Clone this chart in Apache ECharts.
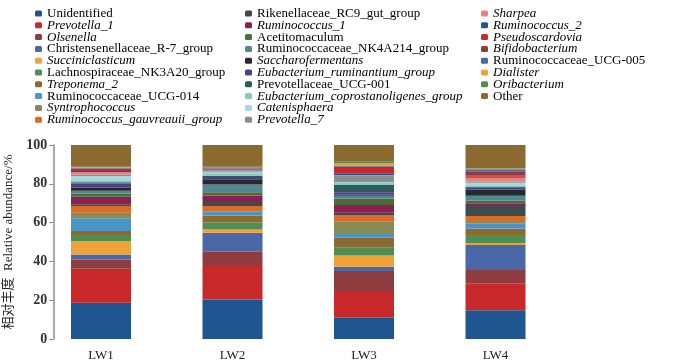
<!DOCTYPE html>
<html>
<head>
<meta charset="utf-8">
<script src="https://cdn.jsdelivr.net/npm/echarts@6/dist/echarts.min.js"></script>
<style>html,body{margin:0;padding:0;background:#fff}#c{width:700px;height:364px}</style>
</head>
<body>
<div id="c"></div>
<script>
var samples = ['LW1', 'LW2', 'LW3', 'LW4'];
var genera = ['Unidentified', 'Prevotella_1', 'Olsenella', 'Christensenellaceae_R-7_group', 'Succiniclasticum',
  'Lachnospiraceae_NK3A20_group', 'Treponema_2', 'Ruminococcaceae_UCG-014', 'Syntrophococcus', 'Ruminococcus_gauvreauii_group',
  'Rikenellaceae_RC9_gut_group', 'Ruminococcus_1', 'Acetitomaculum', 'Ruminococcaceae_NK4A214_group', 'Saccharofermentans',
  'Eubacterium_ruminantium_group', 'Prevotellaceae_UCG-001', 'Eubacterium_coprostanoligenes_group', 'Catenisphaera', 'Prevotella_7',
  'Sharpea', 'Ruminococcus_2', 'Pseudoscardovia', 'Bifidobacterium', 'Ruminococcaceae_UCG-005', 'Dialister', 'Oribacterium', 'Other'];
var italicNames = ['Prevotella_1', 'Olsenella', 'Succiniclasticum', 'Treponema_2', 'Syntrophococcus', 'Ruminococcus_gauvreauii_group',
  'Ruminococcus_1', 'Saccharofermentans', 'Eubacterium_ruminantium_group', 'Eubacterium_coprostanoligenes_group', 'Catenisphaera',
  'Prevotella_7', 'Sharpea', 'Ruminococcus_2', 'Pseudoscardovia', 'Bifidobacterium', 'Dialister', 'Oribacterium'];
// relative abundance (%) per genus, in the order of `genera`
var lw1 = [18.7, 17.5, 4.8, 2.6, 6.9, 3.1, 2.1, 6.5, 2.9, 3.4, 1.0, 3.8, 1.7, 1.4, 1.5, 2.2, 0.7, 1.0, 2.2, 0.7, 1.2, 0.7, 1.0, 0.3, 0.5, 0.2, 0.2, 11.2];
var lw2 = [20.4, 17.2, 7.4, 9.8, 1.7, 3.6, 3.6, 1.7, 0.4, 2.7, 2.6, 2.9, 1.7, 4.0, 2.6, 1.2, 0.6, 1.0, 0.7, 0.5, 0.6, 0.5, 0.3, 0.3, 0.5, 0.1, 0.2, 11.5];
var lw3 = [11.0, 13.7, 10.3, 2.2, 5.8, 4.0, 5.2, 1.9, 6.4, 3.1, 1.5, 4.0, 3.3, 1.4, 0.6, 1.2, 3.8, 1.0, 0.5, 3.1, 0.5, 1.0, 3.1, 0.3, 0.3, 1.2, 1.0, 8.6];
var lw4 = [14.8, 13.9, 6.9, 12.9, 1.0, 4.1, 3.4, 2.4, 0.9, 3.1, 5.7, 0.9, 1.4, 2.4, 3.1, 1.0, 0.5, 0.9, 1.2, 0.5, 2.1, 0.5, 0.5, 2.4, 1.0, 0.2, 0.2, 12.5];
var yTicks = [0, 20, 40, 60, 80, 100];

var palette = ['#1f5591', '#c8292a', '#8f3c40', '#4a67a8', '#f0a23a', '#4e8f55', '#8a6a2e', '#4b94c9', '#8a8a55', '#d86d27',
  '#3f4a50', '#8a2050', '#4f6b3a', '#4f8890', '#262a2e', '#4c3f8c', '#2f5a5a', '#7ecfb0', '#a9d8e5', '#8c8c8c',
  '#e9837a', '#1f5591', '#c8292a', '#8f3c40', '#4a67a8', '#f0a23a', '#4e8f55', '#8a6a2e'];

var sampleData = [lw1, lw2, lw3, lw4];
var series = genera.map(function (g, i) {
  return {
    name: g, type: 'bar', stack: 'all', barWidth: 60,
    itemStyle: { color: palette[i] },
    data: sampleData.map(function (d) { return d[i]; })
  };
});

function legendCol(names, left) {
  return {
    orient: 'vertical', left: left, top: 7, padding: 0, itemWidth: 7, itemHeight: 6, itemGap: -1.2,
    selectedMode: false, data: names,
    textStyle: { fontFamily: 'Liberation Serif', fontSize: 13, color: '#000',
      rich: { i: { fontStyle: 'italic', fontFamily: 'Liberation Serif', fontSize: 13 } } },
    formatter: function (n) { return italicNames.indexOf(n) >= 0 ? '{i|' + n + '}' : n; }
  };
}

var chart = echarts.init(document.getElementById('c'));
chart.setOption({
  animation: false,
  color: palette,
  legend: [legendCol(genera.slice(0, 10), 35), legendCol(genera.slice(10, 20), 245), legendCol(genera.slice(20), 481)],
  grid: { left: 35.25, right: 138.75, top: 145, bottom: 25, outerBoundsMode: 'none', containLabel: false },
  xAxis: {
    type: 'category', data: samples,
    axisLine: { show: false }, axisTick: { show: false },
    axisLabel: { fontFamily: 'Liberation Serif', fontSize: 13, color: '#222', margin: 10 }
  },
  yAxis: {
    type: 'value', min: yTicks[0], max: yTicks[yTicks.length - 1], interval: 20, offset: -18,
    name: '相对丰度  Relative abundance/%', nameLocation: 'middle', nameGap: 33,
    nameTextStyle: { fontFamily: 'Liberation Serif, Noto Sans CJK SC', fontSize: 13, color: '#222' },
    axisLine: { show: true, lineStyle: { color: '#8c8c8c', width: 1.5 } },
    axisTick: { show: true, length: 4, lineStyle: { color: '#8c8c8c' } },
    axisLabel: { fontFamily: 'Liberation Serif', fontSize: 14, fontWeight: 'bold', color: '#333', margin: 6 },
    splitLine: { show: false }
  },
  series: series
});
</script>
</body>
</html>
